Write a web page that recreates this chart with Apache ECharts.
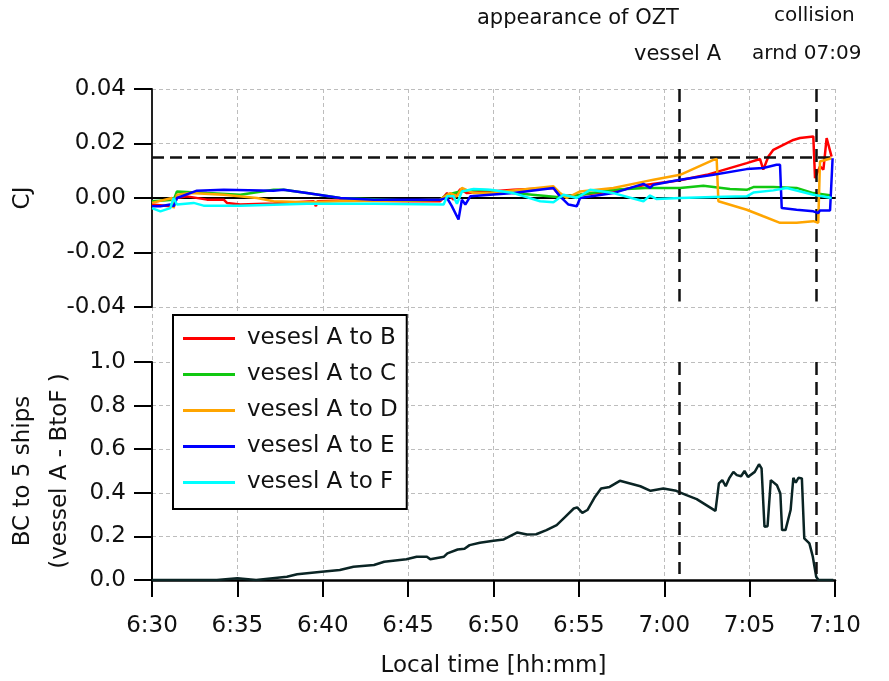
<!DOCTYPE html>
<html>
<head>
<meta charset="utf-8">
<script src="https://cdn.jsdelivr.net/npm/echarts@6/dist/echarts.min.js"></script>
<style>html,body{margin:0;padding:0;background:#fff}#c{width:889px;height:681px}</style>
</head>
<body>
<div id="c"></div>
<script>
// time = minutes after 6:30
const xTickLabels = ['6:30','6:35','6:40','6:45','6:50','6:55','7:00','7:05','7:10'];
const cjTicks = [-0.04, -0.02, 0.00, 0.02, 0.04];
const bcTicks = [0.0, 0.2, 0.4, 0.6, 0.8, 1.0];
const seriesNames = ['vesesl A to B','vesesl A to C','vesesl A to D','vesesl A to E','vesesl A to F'];
const seriesColors = ['#ff0000','#11c811','#ffa500','#0000ff','#00ffff'];
const cjThreshold = 0.015;
const oztTime = 30.9;       // appearance of OZT vessel A (~7:01)
const collisionTime = 38.9; // collision around 7:09

const cjAtoB = [[0,-0.0024],[1.07,-0.003],[1.27,-0.003],[1.46,0.0],[2.05,0.0006],[3.22,-0.0006],[4.2,-0.0006],[4.39,-0.0018],[5.17,-0.0024],[7.12,-0.002],[9.47,-0.0012],[9.6,-0.003],[9.7,-0.0012],[11.03,-0.0009],[14.93,-0.0012],[16.88,-0.0012],[17.28,0.0018],[17.66,-0.0006],[18.05,0.0032],[18.44,0.0018],[19.81,0.0024],[21.17,0.003],[23.51,0.0037],[23.9,0.0006],[25.07,0.0012],[27.02,0.0024],[28.98,0.0049],[30.93,0.0065],[32.49,0.0085],[34.83,0.0128],[35.61,0.0143],[35.8,0.0104],[36.1,0.0152],[36.39,0.0177],[37.56,0.0213],[37.95,0.022],[38.73,0.0226],[38.83,0.0073],[39.12,0.0116],[39.32,0.0104],[39.51,0.022],[39.8,0.0152]];
const cjAtoC = [[0,-0.0012],[1.27,-0.0006],[1.46,0.0024],[3.22,0.0018],[5.17,0.0012],[7.12,0.003],[7.71,0.003],[9.07,0.0018],[11.03,0.0],[14.93,-0.0009],[16.88,-0.0006],[17.28,0.0012],[18.05,0.0024],[18.83,0.003],[19.81,0.0028],[21.17,0.0018],[23.71,0.0004],[25.07,0.0012],[27.02,0.003],[28.88,0.0037],[28.98,0.003],[30.93,0.0037],[32.29,0.0045],[33.85,0.0033],[34.83,0.003],[35.22,0.004],[36.39,0.004],[37.75,0.0037],[38.73,0.0018],[39.8,0.0009]];
const cjAtoD = [[0,-0.0018],[1.17,0.0],[1.27,-0.0037],[1.46,0.0012],[2.24,0.0018],[4.2,0.0012],[6.15,0.0],[7.12,-0.0012],[9.07,-0.0016],[11.03,-0.0012],[14.93,-0.0009],[16.88,-0.0006],[17.47,0.0018],[17.86,0.0006],[18.15,0.0037],[18.83,0.0018],[19.81,0.0018],[23.51,0.0043],[23.9,0.0018],[24.29,0.0],[25.07,0.0024],[27.02,0.0037],[28.88,0.0061],[29.37,0.0067],[30.93,0.0085],[32.88,0.014],[33.07,0.0143],[33.17,-0.0012],[34.83,-0.0043],[35.8,-0.0067],[36.78,-0.0091],[37.75,-0.0091],[38.73,-0.0085],[39.02,-0.0091],[39.12,0.0134],[39.8,0.0146]];
const cjAtoE = [[0,-0.003],[0.49,-0.003],[1.07,-0.0024],[1.27,-0.003],[1.46,0.0],[2.63,0.0027],[4.2,0.003],[7.12,0.0027],[7.71,0.003],[9.07,0.0018],[11.03,0.0],[12.98,-0.0006],[16.88,-0.0006],[17.28,0.0],[17.56,-0.003],[17.95,-0.0079],[18.15,-0.0006],[18.35,-0.0024],[18.64,0.0006],[19.81,0.0012],[21.17,0.0018],[23.51,0.0037],[23.9,0.0006],[24.39,-0.0024],[24.88,-0.003],[25.07,0.0],[27.02,0.0018],[28.78,0.0052],[29.17,0.0037],[29.37,0.0049],[30.93,0.0067],[32.88,0.0085],[34.83,0.0106],[35.8,0.011],[36.58,0.0122],[36.78,0.0122],[36.88,-0.0037],[37.75,-0.0043],[38.73,-0.0049],[39.02,-0.0055],[39.12,-0.0046],[39.71,-0.0046],[39.86,0.0146]];
const cjAtoF = [[0,-0.0037],[0.49,-0.0049],[1.07,-0.0037],[1.27,0.0],[1.46,-0.0024],[2.44,-0.0018],[3.02,-0.0028],[5.17,-0.0028],[9.07,-0.0021],[12.98,-0.0021],[17.08,-0.0024],[17.28,0.0006],[17.66,0.0006],[17.86,-0.0021],[18.15,0.0024],[18.83,0.0033],[19.81,0.003],[21.17,0.0018],[22.73,-0.0012],[23.51,-0.0016],[24.1,0.0012],[24.88,0.0],[25.66,0.003],[27.02,0.0018],[28.78,-0.0012],[29.17,0.0009],[29.56,-0.0004],[30.93,0.0],[32.88,0.0004],[34.83,0.0006],[35.22,0.002],[36.39,0.0028],[37.17,0.0037],[38.73,0.0012],[39.8,0.0]];
const bcAtoBtoF = [[0,0],[3.8,0],[5.0,0.008],[6.1,0],[7.9,0.015],[8.5,0.026],[9.94,0.038],[11.0,0.046],[11.8,0.061],[13.0,0.069],[13.6,0.084],[14.9,0.095],[15.5,0.107],[16.1,0.107],[16.3,0.095],[17.1,0.107],[17.3,0.122],[17.9,0.14],[18.3,0.143],[18.6,0.16],[19.2,0.171],[20.0,0.18],[20.6,0.186],[21.4,0.218],[21.96,0.209],[22.5,0.21],[23.1,0.229],[23.7,0.252],[24.2,0.29],[24.7,0.328],[24.9,0.333],[25.2,0.308],[25.5,0.321],[25.95,0.382],[26.3,0.42],[26.8,0.427],[27.4,0.455],[28.0,0.443],[28.6,0.43],[29.2,0.409],[29.95,0.42],[30.7,0.409],[31.3,0.389],[31.9,0.371],[33.0,0.317],[33.2,0.443],[33.4,0.458],[33.6,0.43],[33.8,0.466],[34.05,0.496],[34.25,0.481],[34.5,0.476],[34.7,0.5],[34.9,0.473],[35.3,0.496],[35.55,0.531],[35.7,0.512],[35.87,0.244],[36.05,0.247],[36.24,0.458],[36.6,0.435],[36.8,0.397],[36.9,0.229],[37.1,0.229],[37.4,0.321],[37.56,0.469],[37.7,0.446],[37.86,0.469],[38.06,0.466],[38.2,0.191],[38.5,0.168],[38.7,0.107],[38.9,0.015],[39.03,0],[39.9,0]];
const cjData = [cjAtoB, cjAtoC, cjAtoD, cjAtoE, cjAtoF];

const FONT = 'DejaVu Sans';
const gridColor = '#bdbdbd';
const xFmt = v => xTickLabels[Math.round(v / 5)] || '';

const chart = echarts.init(document.getElementById('c'), null, {renderer: 'canvas'});

const vMark = (top, bottom) => ({
  silent: true, symbol: 'none', label: {show: false}, precision: 6,
  lineStyle: {color: '#111', width: 2.5, type: [13, 7]},
  data: [
    [{coord: [oztTime, top]}, {coord: [oztTime, bottom]}],
    [{coord: [collisionTime, top]}, {coord: [collisionTime, bottom]}]
  ]
});

const series = cjData.map((d, i) => ({
  name: seriesNames[i], type: 'line', xAxisIndex: 0, yAxisIndex: 0,
  data: d, showSymbol: false, symbol: 'none',
  lineStyle: {color: seriesColors[i], width: 2.5}, itemStyle: {color: seriesColors[i]},
  z: 3 + i
}));
series.push({
  name: 'thresholds', type: 'line', xAxisIndex: 0, yAxisIndex: 0, data: [], symbol: 'none',
  markLine: {
    silent: true, symbol: 'none', label: {show: false}, precision: 6,
    lineStyle: {color: '#111', width: 2.5, type: [12, 6]},
    data: [[{coord: [0, cjThreshold]}, {coord: [40, cjThreshold]}]]
  }, z: 2
});
series.push({
  name: 'vtop', type: 'line', xAxisIndex: 0, yAxisIndex: 0, data: [], symbol: 'none',
  markLine: vMark(cjTicks[4], -0.038), z: 2
});
series.push({
  name: 'BC', type: 'line', xAxisIndex: 2, yAxisIndex: 2, data: bcAtoBtoF,
  showSymbol: false, symbol: 'none',
  lineStyle: {color: '#0a2424', width: 2.5},
  markLine: vMark(bcTicks[5], 0.027), z: 3
});

const gridBase = {left: 152, right: 54, outerBoundsMode: 'none', containLabel: false};
const option = {
  animation: false,
  backgroundColor: '#fff',
  textStyle: {fontFamily: FONT},
  grid: [
    Object.assign({top: 89, height: 218}, gridBase),
    Object.assign({top: 307, height: 55}, gridBase),
    Object.assign({top: 362, height: 218}, gridBase)
  ],
  xAxis: [
    {type: 'value', gridIndex: 0, min: 0, max: 40, interval: 5,
     axisLine: {show: true, onZero: true, lineStyle: {color: '#000', width: 2}},
     axisTick: {show: false}, axisLabel: {show: false},
     splitLine: {show: true, lineStyle: {color: gridColor, type: [4, 3], width: 1}}},
    {type: 'value', gridIndex: 1, min: 0, max: 40, interval: 5,
     axisLine: {show: false}, axisTick: {show: false}, axisLabel: {show: false},
     splitLine: {show: true, lineStyle: {color: gridColor, type: [4, 3], width: 1}}},
    {type: 'value', gridIndex: 2, min: 0, max: 40, interval: 5,
     axisLine: {show: true, onZero: false, lineStyle: {color: '#000', width: 2.5}},
     axisTick: {show: true, inside: false, length: 17, lineStyle: {color: '#000', width: 2}},
     axisLabel: {formatter: xFmt, fontSize: 23, color: '#111', margin: 35, fontFamily: FONT},
     splitLine: {show: true, lineStyle: {color: gridColor, type: [4, 3], width: 1}},
     name: 'Local time [hh:mm]', nameLocation: 'middle', nameGap: 75,
     nameTextStyle: {fontSize: 23, color: '#111', fontFamily: FONT}}
  ],
  yAxis: [
    {type: 'value', gridIndex: 0, min: cjTicks[0], max: cjTicks[4], interval: 0.02,
     axisLine: {show: true, lineStyle: {color: '#222', width: 2}},
     axisTick: {show: true, inside: false, length: 18, lineStyle: {color: '#000', width: 2}},
     axisLabel: {formatter: v => v.toFixed(2), fontSize: 23, color: '#111', margin: 26, fontFamily: FONT},
     splitLine: {show: true, lineStyle: {color: gridColor, type: [4, 3], width: 1}},
     name: 'CJ', nameLocation: 'middle', nameGap: 117,
     nameTextStyle: {fontSize: 23, color: '#111', fontFamily: FONT}},
    {type: 'value', gridIndex: 1, min: 0, max: 1, show: false},
    {type: 'value', gridIndex: 2, min: bcTicks[0], max: bcTicks[5], interval: 0.2,
     axisLine: {show: true, lineStyle: {color: '#000', width: 2}},
     axisTick: {show: true, inside: false, length: 18, lineStyle: {color: '#000', width: 2}},
     axisLabel: {formatter: v => v.toFixed(1), fontSize: 23, color: '#111', margin: 26, fontFamily: FONT},
     splitLine: {show: true, lineStyle: {color: gridColor, type: [4, 3], width: 1}},
     name: 'BC to 5 ships\n(vessel A - BtoF )', nameLocation: 'middle', nameGap: 70,
     nameTextStyle: {fontSize: 23, lineHeight: 37, color: '#111', fontFamily: FONT}}
  ],
  legend: {
    data: seriesNames, orient: 'vertical', left: 173, top: 315,
    backgroundColor: '#fff', borderColor: '#000', borderWidth: 2, borderRadius: 0,
    padding: [12, 9, 15, 10], itemGap: 13, itemWidth: 52, itemHeight: 3, icon: 'rect',
    textStyle: {fontSize: 23, lineHeight: 23, color: '#111', fontFamily: FONT, padding: [0, 0, 0, 7]},
    selectedMode: false
  },
  graphic: [
    {type: 'text', left: 477, top: 8, style: {text: 'appearance of OZT', font: '21px "DejaVu Sans"', fill: '#111'}},
    {type: 'text', right: 889 - 721, top: 44, style: {text: 'vessel A', font: '21px "DejaVu Sans"', fill: '#111'}},
    {type: 'text', left: 774, top: 6, style: {text: 'collision', font: '20px "DejaVu Sans"', fill: '#111'}},
    {type: 'text', left: 752, top: 44, style: {text: 'arnd 07:09', font: '20px "DejaVu Sans"', fill: '#111'}}
  ],
  series: series
};
chart.setOption(option);
</script>
</body>
</html>
